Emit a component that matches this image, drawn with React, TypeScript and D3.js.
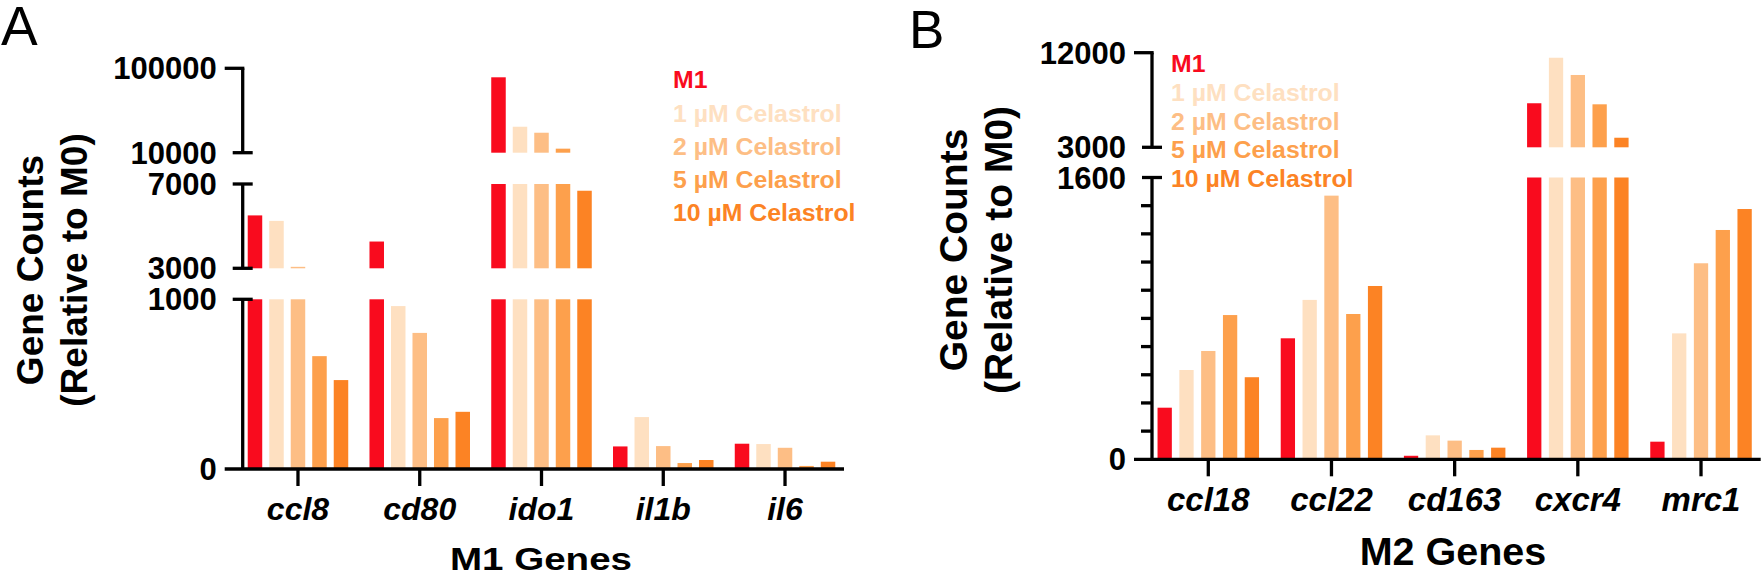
import React from "react";
import * as d3 from "d3";

// ---- shared series ----
const seriesNames = ["M1", "1 µM Celastrol", "2 µM Celastrol", "5 µM Celastrol", "10 µM Celastrol"];
const seriesColors = ["#F90B1E", "#FEE0C1", "#FDBE85", "#FDA04C", "#FC8324"];

// ---- panel A : M1 genes ----
const m1Genes = ["ccl8", "cd80", "ido1", "il1b", "il6"];
const m1Values = [
  [5510, 4270, 90400, 133, 149], // M1
  [5250, 960, 37700, 306, 147], // 1 µM
  [3070, 802, 31300, 135, 125], // 2 µM
  [665, 300, 14300, 35, 18], // 5 µM
  [524, 337, 6680, 53, 43], // 10 µM
];
const m1Segments = [[0, 1000], [3000, 7000], [10000, 100000]];

// ---- panel B : M2 genes ----
const m2Genes = ["ccl18", "ccl22", "cd163", "cxcr4", "mrc1"];
const m2Values = [
  [293, 687, 20, 7190, 100], // M1
  [507, 905, 136, 11520, 715], // 1 µM
  [615, 1497, 106, 9880, 1113], // 2 µM
  [819, 825, 53, 7090, 1302], // 5 µM
  [466, 984, 66, 3910, 1421], // 10 µM
];
const m2Segments = [[0, 1600], [3000, 12000]];
const m2MinorStep = 160;

const FONT = "'Liberation Sans', Arial, Helvetica, sans-serif";
const SW = 3.3;

type PanelProps = {
  letter: string;
  letterX: number;
  letterY: number;
  letterSize: number;
  genes: string[];
  values: number[][];
  segments: number[][];
  segPx: number[][];
  minorStep?: number;
  axisX: number;
  xRange: [number, number];
  groupPad: number;
  barPad: number;
  xAxisEnd: number;
  yLabelSize: number;
  geneSize: number;
  geneY: number;
  xTitle: string;
  xTitleX: number;
  xTitleY: number;
  xTitleSize: number;
  xTitleLen?: number;
  yTitleSize: number;
  yTitleX: [number, number];
  yTitleY: number;
  legendX: number;
  legendY: number;
  legendStep: number;
  legendSize: number;
};

function Panel(p: PanelProps) {
  const x0 = d3.scaleBand<string>().domain(p.genes).range(p.xRange)
    .paddingInner(p.groupPad).paddingOuter(p.groupPad / 2);
  const x1 = d3.scaleBand<string>().domain(seriesNames).range([0, x0.bandwidth()])
    .paddingInner(p.barPad).paddingOuter(0);
  const ys = p.segments.map((s, i) => d3.scaleLinear().domain(s).range(p.segPx[i]));
  const fmt = d3.format("d");
  const baseY = p.segPx[0][0];
  const nSeg = p.segments.length;

  return (
    <g>
      <text x={p.letterX} y={p.letterY} fontFamily={FONT} fontSize={p.letterSize}>{p.letter}</text>

      {/* bars, split over the axis segments */}
      {p.values.map((row, si) =>
        row.map((v, gi) =>
          ys.map((y, k) => {
            const [lo, hi] = p.segments[k];
            if (v <= lo) return null;
            const top = y(Math.min(v, hi));
            const bot = y(lo);
            return (
              <rect key={`${si}-${gi}-${k}`}
                x={(x0(p.genes[gi]) as number) + (x1(seriesNames[si]) as number)}
                y={top} width={x1.bandwidth()} height={bot - top}
                fill={seriesColors[si]} />
            );
          })
        )
      )}

      {/* y axis segments */}
      {ys.map((y, k) => {
        const [lo, hi] = p.segments[k];
        const isTop = k === nSeg - 1;
        const minors = p.minorStep && k === 0 ? d3.range(lo + p.minorStep, hi, p.minorStep) : [];
        return (
          <g key={k} stroke="#000" strokeWidth={SW}>
            <line x1={p.axisX} x2={p.axisX} y1={y(lo)} y2={y(hi)} />
            {k > 0 && <line x1={p.axisX - 10} x2={p.axisX + 10} y1={y(lo)} y2={y(lo)} />}
            {isTop
              ? <line x1={p.axisX - 18} x2={p.axisX + SW / 2} y1={y(hi)} y2={y(hi)} />
              : <line x1={p.axisX - 10} x2={p.axisX + 10} y1={y(hi)} y2={y(hi)} />}
            {minors.map((m) => (
              <line key={m} x1={p.axisX - 11} x2={p.axisX} y1={y(m)} y2={y(m)} />
            ))}
            {[lo, hi].map((t) => (
              <text key={t} x={p.axisX - 26} y={y(t) + p.yLabelSize * 0.358}
                textAnchor="end" stroke="none" fill="#000" fontFamily={FONT}
                fontWeight="bold" fontSize={p.yLabelSize}>{fmt(t)}</text>
            ))}
          </g>
        );
      })}

      {/* x axis */}
      <g stroke="#000" strokeWidth={SW}>
        <line x1={p.axisX - 18} x2={p.xAxisEnd} y1={baseY} y2={baseY} />
        {p.genes.map((g) => {
          const cx = (x0(g) as number) + x0.bandwidth() / 2;
          return <line key={g} x1={cx} x2={cx} y1={baseY} y2={baseY + 17} />;
        })}
      </g>
      {p.genes.map((g) => (
        <text key={g} x={(x0(g) as number) + x0.bandwidth() / 2} y={p.geneY}
          textAnchor="middle" fontFamily={FONT} fontWeight="bold" fontStyle="italic"
          fontSize={p.geneSize}>{g}</text>
      ))}
      <text x={p.xTitleX} y={p.xTitleY} textAnchor="middle" fontFamily={FONT}
        fontWeight="bold" fontSize={p.xTitleSize}
        textLength={p.xTitleLen} lengthAdjust={p.xTitleLen ? "spacingAndGlyphs" : undefined}>{p.xTitle}</text>

      {/* y title */}
      {["Gene Counts", "(Relative to M0)"].map((t, i) => (
        <text key={t} transform={`translate(${p.yTitleX[i]},${p.yTitleY}) rotate(-90)`}
          textAnchor="middle" fontFamily={FONT} fontWeight="bold" fontSize={p.yTitleSize}>{t}</text>
      ))}

      {/* legend */}
      {seriesNames.map((s, i) => (
        <text key={s} x={p.legendX} y={p.legendY + i * p.legendStep} fill={seriesColors[i]}
          fontFamily={FONT} fontWeight="bold" fontSize={p.legendSize}>{s}</text>
      ))}
    </g>
  );
}

export default function App() {
  return (
    <svg width={1762} height={578} style={{ position: "absolute", left: 0, top: 0, background: "#fff" }}>
      <Panel
        letter="A" letterX={1} letterY={45} letterSize={55}
        genes={m1Genes} values={m1Values} segments={m1Segments}
        segPx={[[469, 299.3], [268.3, 184], [152.7, 68.3]]}
        axisX={242.7} xRange={[237.1, 845.9]} groupPad={0.1745} barPad={0.3256}
        xAxisEnd={844} yLabelSize={31} geneSize={32} geneY={520}
        xTitle="M1 Genes" xTitleX={541} xTitleY={569.5} xTitleSize={32} xTitleLen={182}
        yTitleSize={37} yTitleX={[43.3, 87]} yTitleY={270}
        legendX={673} legendY={88.3} legendStep={33.2} legendSize={24.8}
      />
      <Panel
        letter="B" letterX={909} letterY={48.3} letterSize={53}
        genes={m2Genes} values={m2Values} segments={m2Segments}
        segPx={[[459.3, 177.5], [147.3, 52.7]]} minorStep={m2MinorStep}
        axisX={1152} xRange={[1146.7, 1762.6]} groupPad={0.176} barPad={0.344}
        xAxisEnd={1760.7} yLabelSize={31} geneSize={33} geneY={511}
        xTitle="M2 Genes" xTitleX={1453} xTitleY={565} xTitleSize={39.5}
        yTitleSize={39} yTitleX={[966.7, 1011.5]} yTitleY={250}
        legendX={1171} legendY={72.3} legendStep={28.6} legendSize={24.8}
      />
    </svg>
  );
}
